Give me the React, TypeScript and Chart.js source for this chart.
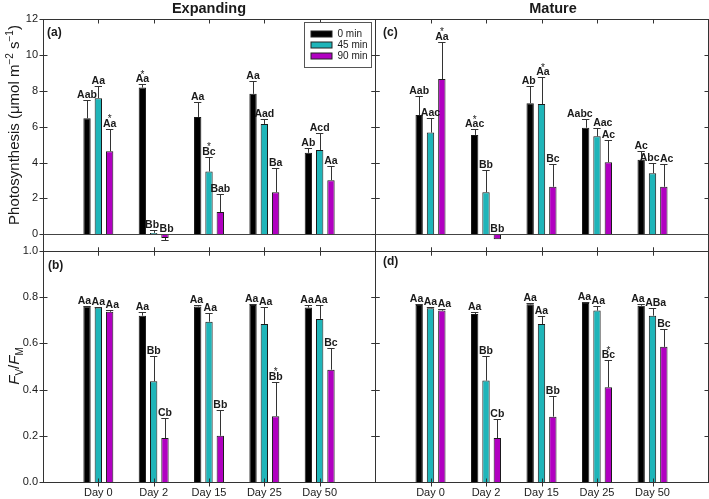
import React, { useEffect, useRef } from 'react';
import { Chart, registerables } from 'chart.js';

Chart.register(...registerables);
Chart.defaults.font.family = '"Liberation Sans", Arial, sans-serif';

// ---------- data ----------
const days = ['Day 0', 'Day 2', 'Day 15', 'Day 25', 'Day 50'];
const seriesNames = ['0 min', '45 min', '90 min'];
const seriesColors = ['#000000', '#1fb5b9', '#b100c1'];

const photoTicks = [0, 2, 4, 6, 8, 10, 12];
const fvfmTicks = [0, 0.2, 0.4, 0.6, 0.8, 1.0];

// (a) Expanding – photosynthesis
const expPhoto0 = [6.47, 8.18, 6.54, 7.83, 4.54];
const expPhoto45 = [7.59, 0.08, 3.5, 6.15, 4.7];
const expPhoto90 = [4.63, -0.2, 1.24, 2.35, 3.02];
const expPhoto0Err = [1.03, 0.19, 0.83, 0.71, 0.27];
const expPhoto45Err = [0.7, 0.15, 0.83, 0.29, 0.97];
const expPhoto90Err = [1.24, 0.13, 1.02, 1.37, 0.79];
const expPhoto0Let = ['Aab', 'Aa', 'Aa', 'Aa', 'Ab'];
const expPhoto45Let = ['Aa', 'Bb', 'Bc', 'Aad', 'Acd'];
const expPhoto90Let = ['Aa', 'Bb', 'Bab', 'Ba', 'Aa'];
const expPhoto0Star = [false, true, false, false, false];
const expPhoto45Star = [false, false, true, false, false];
const expPhoto90Star = [true, false, false, false, false];

// (c) Mature – photosynthesis
const matPhoto0 = [6.65, 5.54, 7.31, 5.94, 4.15];
const matPhoto45 = [5.67, 2.35, 7.26, 5.46, 3.41];
const matPhoto90 = [8.65, -0.28, 2.65, 4.02, 2.65];
const matPhoto0Err = [1.07, 0.31, 0.95, 0.5, 0.52];
const matPhoto45Err = [0.83, 1.24, 1.5, 0.48, 0.59];
const matPhoto90Err = [2.09, 0.0, 1.28, 1.26, 1.29];
const matPhoto0Let = ['Aab', 'Aac', 'Ab', 'Aabc', 'Ac'];
const matPhoto45Let = ['Aac', 'Bb', 'Aa', 'Aac', 'Abc'];
const matPhoto90Let = ['Aa', 'Bb', 'Bc', 'Ac', 'Ac'];
const matPhoto0Star = [false, true, false, false, false];
const matPhoto45Star = [false, false, true, false, false];
const matPhoto90Star = [true, false, false, false, false];

// (b) Expanding – Fv/Fm
const expFv0 = [0.76, 0.72, 0.76, 0.766, 0.755];
const expFv45 = [0.755, 0.436, 0.694, 0.684, 0.706];
const expFv90 = [0.737, 0.19, 0.2, 0.285, 0.486];
const expFv0Err = [0.004, 0.016, 0.006, 0.006, 0.011];
const expFv45Err = [0.004, 0.109, 0.039, 0.072, 0.062];
const expFv90Err = [0.006, 0.088, 0.113, 0.148, 0.095];
const expFv0Let = ['Aa', 'Aa', 'Aa', 'Aa', 'Aa'];
const expFv45Let = ['Aa', 'Bb', 'Aa', 'Aa', 'Aa'];
const expFv90Let = ['Aa', 'Cb', 'Bb', 'Bb', 'Bc'];
const expFv0Star = [false, false, false, false, false];
const expFv45Star = [false, false, false, false, false];
const expFv90Star = [false, false, false, true, false];

// (d) Mature – Fv/Fm
const matFv0 = [0.766, 0.727, 0.769, 0.775, 0.763];
const matFv45 = [0.752, 0.439, 0.684, 0.742, 0.72];
const matFv90 = [0.742, 0.19, 0.283, 0.41, 0.585];
const matFv0Err = [0.004, 0.01, 0.005, 0.004, 0.007];
const matFv45Err = [0.004, 0.106, 0.033, 0.018, 0.035];
const matFv90Err = [0.006, 0.081, 0.089, 0.117, 0.076];
const matFv0Let = ['Aa', 'Aa', 'Aa', 'Aa', 'Aa'];
const matFv45Let = ['Aa', 'Bb', 'Aa', 'Aa', 'ABa'];
const matFv90Let = ['Aa', 'Cb', 'Bb', 'Bc', 'Bc'];
const matFv0Star = [false, false, false, false, false];
const matFv45Star = [false, false, false, false, false];
const matFv90Star = [false, false, false, true, false];

// ---------- panel settings ----------
const FONT = '"Liberation Sans", Arial, sans-serif';
const TEXT = '#1a1a1a';
const LINE = '#333333';
const CANVAS_W = 712;
const CANVAS_H = 499;

type Panel = {
  values: number[][];
  errors: number[][];
  letters: string[][];
  stars: boolean[][];
  yMin: number;
  yMax: number;
  yTicks: number[];
  decimals: number;
  showY: boolean;
  showX: boolean;
  zeroLine: boolean;
  topRow: boolean;
  rightCol: boolean;
  pad: { left: number; top: number; right: number; bottom: number };
  tag: string;
  tagDx: number;
  tagDy: number;
  title?: string;
  titleX?: number;
  yTitle?: 'photo' | 'fvfm';
  legend?: boolean;
};

const panels: Panel[] = [
  {
    values: [expPhoto0, expPhoto45, expPhoto90],
    errors: [expPhoto0Err, expPhoto45Err, expPhoto90Err],
    letters: [expPhoto0Let, expPhoto45Let, expPhoto90Let],
    stars: [expPhoto0Star, expPhoto45Star, expPhoto90Star],
    yMin: -0.93, yMax: 12, yTicks: photoTicks, decimals: 0,
    showY: true, showX: false, zeroLine: true, topRow: true, rightCol: false,
    pad: { left: 0, top: 19, right: CANVAS_W - 375, bottom: 248 },
    tag: '(a)', tagDx: 4, tagDy: 17,
    title: 'Expanding', titleX: 209, yTitle: 'photo', legend: true,
  },
  {
    values: [matPhoto0, matPhoto45, matPhoto90],
    errors: [matPhoto0Err, matPhoto45Err, matPhoto90Err],
    letters: [matPhoto0Let, matPhoto45Let, matPhoto90Let],
    stars: [matPhoto0Star, matPhoto45Star, matPhoto90Star],
    yMin: -0.93, yMax: 12, yTicks: photoTicks, decimals: 0,
    showY: false, showX: false, zeroLine: true, topRow: true, rightCol: true,
    pad: { left: 375, top: 19, right: CANVAS_W - 708, bottom: 248 },
    tag: '(c)', tagDx: 8, tagDy: 17,
    title: 'Mature', titleX: 553,
  },
  {
    values: [expFv0, expFv45, expFv90],
    errors: [expFv0Err, expFv45Err, expFv90Err],
    letters: [expFv0Let, expFv45Let, expFv90Let],
    stars: [expFv0Star, expFv45Star, expFv90Star],
    yMin: 0, yMax: 1, yTicks: fvfmTicks, decimals: 1,
    showY: true, showX: true, zeroLine: false, topRow: false, rightCol: false,
    pad: { left: 0, top: 251, right: CANVAS_W - 375, bottom: 0 },
    tag: '(b)', tagDx: 5, tagDy: 18, yTitle: 'fvfm',
  },
  {
    values: [matFv0, matFv45, matFv90],
    errors: [matFv0Err, matFv45Err, matFv90Err],
    letters: [matFv0Let, matFv45Let, matFv90Let],
    stars: [matFv0Star, matFv45Star, matFv90Star],
    yMin: 0, yMax: 1, yTicks: fvfmTicks, decimals: 1,
    showY: false, showX: true, zeroLine: false, topRow: false, rightCol: true,
    pad: { left: 375, top: 251, right: CANVAS_W - 708, bottom: 0 },
    tag: '(d)', tagDx: 8, tagDy: 14,
  },
];

type Seg = { t: string; font: string; dy: number };

function drawRich(ctx: CanvasRenderingContext2D, segs: Seg[], cx: number, cy: number) {
  let total = 0;
  const widths = segs.map((s) => {
    ctx.font = s.font;
    const w = ctx.measureText(s.t).width;
    total += w;
    return w;
  });
  ctx.save();
  ctx.translate(cx, cy);
  ctx.rotate(-Math.PI / 2);
  ctx.textAlign = 'left';
  ctx.textBaseline = 'alphabetic';
  ctx.fillStyle = TEXT;
  let x = -total / 2;
  segs.forEach((s, i) => {
    ctx.font = s.font;
    ctx.fillText(s.t, x, s.dy);
    x += widths[i];
  });
  ctx.restore();
}

function line(ctx: CanvasRenderingContext2D, x1: number, y1: number, x2: number, y2: number) {
  ctx.beginPath();
  ctx.moveTo(x1, y1);
  ctx.lineTo(x2, y2);
  ctx.stroke();
}

function makePlugin(p: Panel) {
  return {
    id: 'panelDecor',
    afterDatasetsDraw(chart: any) {
      const ctx: CanvasRenderingContext2D = chart.ctx;
      const ys = chart.scales.y;
      ctx.save();
      ctx.strokeStyle = LINE;
      ctx.lineWidth = 1;
      const labelFont = `bold 10.5px ${FONT}`;
      const groups: any[][] = days.map(() => []);
      for (let s = 0; s < p.values.length; s++) {
        const meta = chart.getDatasetMeta(s);
        for (let i = 0; i < days.length; i++) {
          const bar: any = meta.data[i + 1];
          if (!bar) continue;
          const v = p.values[s][i];
          const e = p.errors[s][i];
          const dir = v >= 0 ? 1 : -1;
          const tip = v + dir * e;
          const w = bar.width;
          if (e > 0) {
            const y0 = ys.getPixelForValue(v);
            const y1 = Math.round(ys.getPixelForValue(tip)) + 0.5;
            const xc = Math.round(bar.x) + 0.5;
            line(ctx, xc, y0, xc, y1);
            line(ctx, bar.x - w / 2, y1, bar.x + w / 2, y1);
          }
          const anchor = v >= 0 ? Math.max(0, tip) : 0;
          ctx.font = labelFont;
          const text = p.letters[s][i];
          groups[i].push({
            x: bar.x,
            w: ctx.measureText(text).width,
            base: ys.getPixelForValue(anchor) - 2,
            text,
            star: p.stars[s][i],
          });
        }
      }
      // keep labels of the same group from colliding
      groups.forEach((g) => {
        for (let pass = 0; pass < 8; pass++) {
          for (let k = 1; k < g.length; k++) {
            const a = g[k - 1];
            const b = g[k];
            if (Math.abs(a.base - b.base) < 10) {
              const need = (a.w + b.w) / 2 + 0.5 - (b.x - a.x);
              if (need > 0) {
                a.x -= need / 2;
                b.x += need / 2;
              }
            }
          }
        }
      });
      ctx.fillStyle = TEXT;
      ctx.textAlign = 'center';
      ctx.textBaseline = 'alphabetic';
      groups.forEach((g) =>
        g.forEach((it) => {
          ctx.font = labelFont;
          ctx.fillText(it.text, it.x, it.base);
          if (it.star) {
            ctx.font = `10px ${FONT}`;
            ctx.fillText('*', it.x, it.base - 4.5);
          }
        })
      );
      ctx.restore();
    },
    afterDraw(chart: any) {
      const ctx: CanvasRenderingContext2D = chart.ctx;
      const area = chart.chartArea;
      const ys = chart.scales.y;
      const xs = chart.scales.x;
      const L = Math.round(area.left) + 0.5;
      const R = Math.round(area.right) + 0.5;
      const T = Math.round(area.top) + 0.5;
      const B = Math.round(area.bottom) + 0.5;
      ctx.save();
      ctx.strokeStyle = LINE;
      ctx.lineWidth = 1;
      ctx.strokeRect(L, T, R - L, B - T);
      const tk = 4;
      p.yTicks.forEach((v) => {
        const py = Math.round(ys.getPixelForValue(v)) + 0.5;
        line(ctx, L - tk, py, L + tk, py);
        line(ctx, R - tk, py, p.rightCol ? R : R + tk, py);
      });
      for (let i = 1; i <= days.length; i++) {
        const px = Math.round(xs.getPixelForValue(i)) + 0.5;
        line(ctx, px, p.topRow ? T : T - tk, px, T + tk);
        line(ctx, px, B - tk, px, B + tk);
      }
      if (p.zeroLine) {
        const z = Math.round(ys.getPixelForValue(0)) + 0.5;
        ctx.strokeStyle = '#444';
        line(ctx, L, z, R, z);
      }
      // panel tag
      ctx.fillStyle = TEXT;
      ctx.font = `bold 12px ${FONT}`;
      ctx.textAlign = 'left';
      ctx.textBaseline = 'alphabetic';
      ctx.fillText(p.tag, area.left + p.tagDx, area.top + p.tagDy);
      // column title
      if (p.title) {
        ctx.font = `bold 14.5px ${FONT}`;
        ctx.textAlign = 'center';
        ctx.fillText(p.title, p.titleX as number, 13);
      }
      // legend
      if (p.legend) {
        const bw = 67;
        const bh = 45;
        const bx = Math.round(area.right) - 3.5 - bw;
        const by = Math.round(area.top) + 3.5;
        ctx.fillStyle = '#fff';
        ctx.fillRect(bx, by, bw, bh);
        ctx.strokeStyle = '#555';
        ctx.strokeRect(bx, by, bw, bh);
        ctx.font = `10px ${FONT}`;
        ctx.textAlign = 'left';
        ctx.textBaseline = 'middle';
        seriesNames.forEach((name, k) => {
          const cy = by + 11.5 + k * 11;
          ctx.fillStyle = seriesColors[k];
          ctx.fillRect(bx + 6.5, cy - 3, 21, 6);
          ctx.strokeStyle = '#222';
          ctx.strokeRect(bx + 6.5, cy - 3, 21, 6);
          ctx.fillStyle = TEXT;
          ctx.fillText(name, bx + 33, cy + 0.5);
        });
      }
      // y-axis titles
      if (p.yTitle === 'photo') {
        const base = `15px ${FONT}`;
        const sup = `10px ${FONT}`;
        drawRich(
          ctx,
          [
            { t: 'Photosynthesis (μmol m', font: base, dy: 0 },
            { t: '−2', font: sup, dy: -6 },
            { t: ' s', font: base, dy: 0 },
            { t: '−1', font: sup, dy: -6 },
            { t: ')', font: base, dy: 0 },
          ],
          19,
          125
        );
      } else if (p.yTitle === 'fvfm') {
        const it = `italic 15px ${FONT}`;
        const base = `15px ${FONT}`;
        const sub = `10px ${FONT}`;
        drawRich(
          ctx,
          [
            { t: 'F', font: it, dy: 0 },
            { t: 'V', font: sub, dy: 3.5 },
            { t: '/', font: base, dy: 0 },
            { t: 'F', font: it, dy: 0 },
            { t: 'M', font: sub, dy: 3.5 },
          ],
          19,
          366
        );
      }
      ctx.restore();
    },
  };
}

function buildConfig(p: Panel): any {
  const labels = ['', ...days, ''];
  const datasets = p.values.map((vals, s) => ({
    label: seriesNames[s],
    data: [null, ...vals, null],
    backgroundColor: seriesColors[s],
    borderColor: '#1a1a1a',
    borderWidth: 1,
    categoryPercentage: 0.613,
    barPercentage: 0.65,
  }));
  return {
    type: 'bar',
    data: { labels, datasets },
    plugins: [makePlugin(p)],
    options: {
      responsive: false,
      animation: false,
      devicePixelRatio: 1,
      events: [],
      layout: { padding: p.pad },
      plugins: { legend: { display: false }, tooltip: { enabled: false }, title: { display: false } },
      scales: {
        x: {
          type: 'category',
          offset: false,
          display: p.showX,
          grid: { display: false, drawTicks: false },
          border: { display: false },
          ticks: { autoSkip: false, maxRotation: 0, minRotation: 0, padding: 4, color: TEXT, font: { size: 11, family: FONT } },
          afterFit: (s: any) => {
            s.height = p.showX ? 17 : 0;
          },
        },
        y: {
          type: 'linear',
          min: p.yMin,
          max: p.yMax,
          display: p.showY,
          afterBuildTicks: (s: any) => {
            s.ticks = p.yTicks.map((v) => ({ value: v }));
          },
          grid: { display: false, drawTicks: false },
          border: { display: false },
          ticks: {
            padding: 5,
            color: TEXT,
            font: { size: 11, family: FONT },
            callback: (v: any) => Number(v).toFixed(p.decimals),
          },
          afterFit: (s: any) => {
            s.width = p.showY ? 43 : 0;
          },
        },
      },
    },
  };
}

function PanelChart({ panel }: { panel: Panel }) {
  const ref = useRef<HTMLCanvasElement>(null);
  useEffect(() => {
    const chart = new Chart(ref.current as HTMLCanvasElement, buildConfig(panel));
    return () => chart.destroy();
  }, [panel]);
  return (
    <canvas
      ref={ref}
      width={CANVAS_W}
      height={CANVAS_H}
      style={{ position: 'absolute', left: 0, top: 0, width: CANVAS_W, height: CANVAS_H }}
    />
  );
}

export default function App() {
  return (
    <div
      style={{
        position: 'fixed',
        left: 0,
        top: 0,
        width: 709,
        height: 499,
        overflow: 'hidden',
        background: '#ffffff',
      }}
    >
      {panels.map((p, i) => (
        <PanelChart key={i} panel={p} />
      ))}
    </div>
  );
}
